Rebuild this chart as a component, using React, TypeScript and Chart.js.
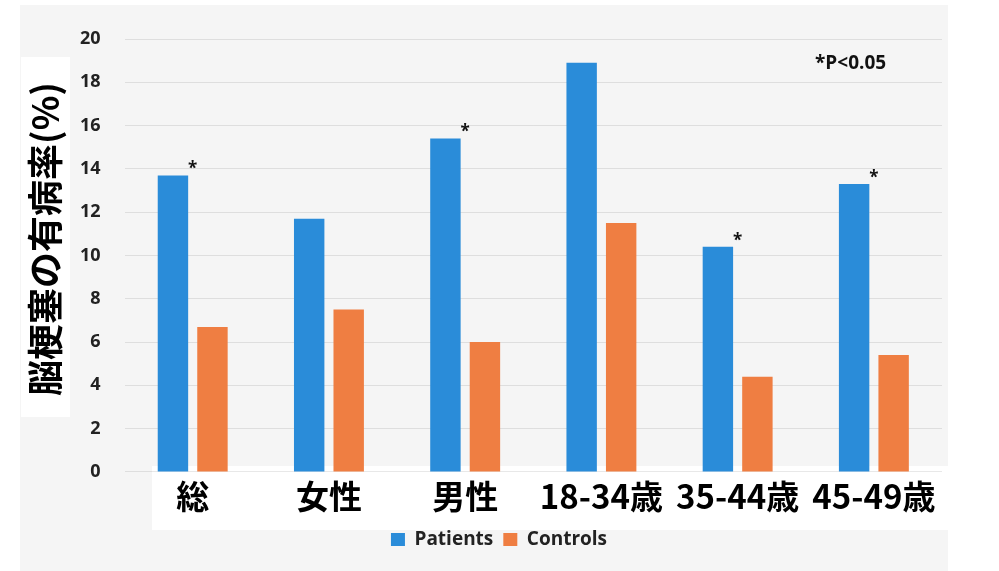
import React, { useEffect, useRef } from "react";
import { Chart, registerables } from "chart.js";

Chart.register(...registerables);

const categories = ["総", "女性", "男性", "18-34歳", "35-44歳", "45-49歳"];
const patients = [13.7, 11.7, 15.4, 18.9, 10.4, 13.3];
const controls = [6.7, 7.5, 6.0, 11.5, 4.4, 5.4];
const significant = [true, false, true, false, true, true];
const seriesNames = ["Patients", "Controls"];
const yTitle = "脳梗塞の有病率(%)";
const noteText = "*P<0.05";
const yMin = 0;
const yMax = 20;
const yStep = 2;

const BLUE = "#2a8cd9";
const ORANGE = "#ef7e42";
const SANS = "'Open Sans', 'DejaVu Sans', sans-serif";

const decorPlugin = {
  id: "decor",
  beforeDraw(chart: any) {
    const { ctx, width, height } = chart;
    ctx.save();
    ctx.fillStyle = "#ffffff";
    ctx.fillRect(0, 0, width, height);
    ctx.fillStyle = "#f5f5f5";
    ctx.fillRect(20, 5, 928, height - 5);
    ctx.fillStyle = "#ffffff";
    ctx.fillRect(21, 57, 49, 360);
    ctx.fillRect(152, 466, width - 152, 64);
    ctx.restore();
  },
  afterDatasetsDraw(chart: any) {
    const { ctx, chartArea } = chart;
    const xs = chart.scales.x;
    const ys = chart.scales.y;
    ctx.save();
    ctx.fillStyle = "#111";
    ctx.font = `bold 17px ${SANS}`;
    ctx.textAlign = "center";
    ctx.textBaseline = "middle";
    significant.forEach((s, i) => {
      if (!s) return;
      const x = xs.getPixelForValue(i);
      const y = ys.getPixelForValue(patients[i]) - 10;
      ctx.fillText("*", x, y + 4);
    });
    ctx.font = `bold 19px ${SANS}`;
    ctx.textAlign = "left";
    ctx.fillText(noteText, chartArea.right - 127, 64);
    // vertical axis title
    ctx.fillStyle = "#000";
    ctx.font = "bold 36px 'Noto Sans CJK JP', sans-serif";
    ctx.translate(45, 239);
    ctx.rotate(-Math.PI / 2);
    ctx.textAlign = "center";
    ctx.fillText(yTitle, 0, 0);
    ctx.restore();
  },
};

export default function App() {
  const ref = useRef<HTMLCanvasElement | null>(null);
  useEffect(() => {
    if (!ref.current) return;
    const chart = new Chart(ref.current, {
      type: "bar",
      data: {
        labels: categories,
        datasets: [
          {
            label: seriesNames[0],
            data: patients,
            backgroundColor: BLUE,
            categoryPercentage: 0.58,
            barPercentage: 0.77,
          },
          {
            label: seriesNames[1],
            data: controls,
            backgroundColor: ORANGE,
            categoryPercentage: 0.58,
            barPercentage: 0.77,
          },
        ],
      },
      options: {
        responsive: false,
        animation: false,
        layout: { padding: { left: 56, right: 57, top: 39, bottom: 12 } },
        plugins: {
          legend: {
            position: "bottom",
            labels: {
              boxWidth: 14,
              boxHeight: 13,
              padding: 10,
              color: "#222",
              font: { family: SANS, size: 19, weight: "bold" },
            },
          },
          tooltip: { enabled: false },
        },
        scales: {
          x: {
            grid: { display: false, drawTicks: false },
            border: { display: false },
            ticks: {
              color: "#000",
              padding: 10,
              maxRotation: 0,
              autoSkip: false,
              font: {
                family: "'Noto Sans CJK JP', sans-serif",
                size: 33,
                weight: "bold",
                lineHeight: 0.85,
              },
            },
          },
          y: {
            min: yMin,
            max: yMax,
            border: { display: false },
            grid: {
              color: "rgba(0,0,0,0.09)",
              drawTicks: false,
              lineWidth: 1,
            },
            ticks: {
              stepSize: yStep,
              color: "#222",
              padding: 24,
              font: { family: SANS, size: 18, weight: "bold" },
            },
          },
        },
      },
      plugins: [decorPlugin],
    });
    return () => chart.destroy();
  }, []);
  return (
    <div style={{ position: "fixed", left: 0, top: 0, width: 999, height: 571 }}>
      <canvas ref={ref} width={999} height={571} style={{ width: 999, height: 571, display: "block" }} />
    </div>
  );
}
